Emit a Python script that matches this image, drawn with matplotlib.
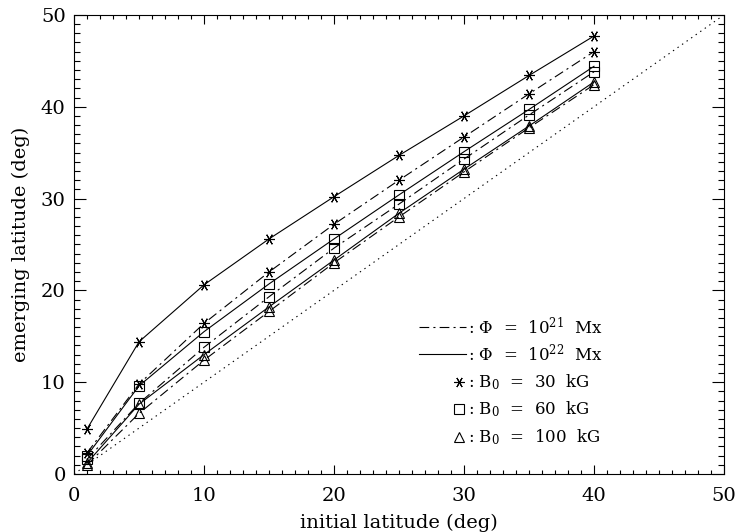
import matplotlib
matplotlib.use("Agg")
import matplotlib.pyplot as plt
from matplotlib.lines import Line2D
from matplotlib.ticker import MultipleLocator

plt.rcParams["font.family"] = ["DejaVu Serif"]
plt.rcParams["mathtext.fontset"] = "dejavuserif"
plt.rcParams["lines.scale_dashes"] = False

# initial latitude (deg)
lat0 = [1, 5, 10, 15, 20, 25, 30, 35, 40]

# emerging latitude (deg); key = (B0 in kG, flux)
b30_1e22 = [4.9, 14.4, 20.6, 25.6, 30.2, 34.7, 39.0, 43.4, 47.7]
b30_1e21 = [2.3, 9.8, 16.4, 22.0, 27.2, 32.0, 36.7, 41.4, 46.0]
b60_1e22 = [2.0, 9.6, 15.5, 20.7, 25.6, 30.4, 35.1, 39.7, 44.4]
b60_1e21 = [1.6, 7.7, 13.8, 19.3, 24.6, 29.4, 34.3, 39.1, 43.8]
b100_1e22 = [1.2, 7.6, 13.0, 18.2, 23.3, 28.4, 33.2, 37.9, 42.7]
b100_1e21 = [1.0, 6.6, 12.4, 17.7, 23.0, 28.0, 32.9, 37.7, 42.4]

diag = [0, 50]

legend_flux = [r": $\Phi$  =  10$^{21}$  Mx", r": $\Phi$  =  10$^{22}$  Mx"]
legend_b0 = [r": B$_0$  =  30  kG", r": B$_0$  =  60  kG", r": B$_0$  =  100  kG"]

DASHDOT = (0, (7, 3, 1.5, 3))
ast = (6, 2, 90)

fig = plt.figure(figsize=(7.35, 5.32), dpi=100)
ax = fig.add_axes([0.1007, 0.109, 0.8843, 0.863])

series = [
    (b30_1e22, "-", ast, 11),
    (b30_1e21, DASHDOT, ast, 11),
    (b60_1e22, "-", "s", 10),
    (b60_1e21, DASHDOT, "s", 10),
    (b100_1e22, "-", "^", 10),
    (b100_1e21, DASHDOT, "^", 10),
]
for vals, ls, mk, ms in series:
    ax.plot(lat0, vals, color="black", lw=0.8, ls=ls, marker=mk,
            markersize=ms * 0.72, markerfacecolor="none",
            markeredgecolor="black", markeredgewidth=0.8)

ax.plot(diag, diag, color="black", lw=0.8, ls=(0, (1, 3)))

ax.set_xlim(0, 50)
ax.set_ylim(0, 50)
ax.xaxis.set_major_locator(MultipleLocator(10))
ax.xaxis.set_minor_locator(MultipleLocator(1))
ax.yaxis.set_major_locator(MultipleLocator(10))
ax.yaxis.set_minor_locator(MultipleLocator(1))
ax.tick_params(axis="x", which="major", direction="in", top=True,
               length=6.5, width=0.8, labelsize=14, pad=9)
ax.tick_params(axis="x", which="minor", direction="in", top=True,
               length=3.2, width=0.8)
ax.tick_params(axis="y", which="major", direction="in", right=True,
               length=8.6, width=0.8, labelsize=14, pad=6)
ax.tick_params(axis="y", which="minor", direction="in", right=True,
               length=4.3, width=0.8)
for sp in ax.spines.values():
    sp.set_linewidth(0.8)

ax.set_xlabel("initial latitude (deg)", fontsize=14, labelpad=7)
ax.set_ylabel("emerging latitude (deg)", fontsize=14, labelpad=8)

# legend drawn by hand, IDL style
tr = ax.transAxes
x0, x1, xt = 0.531, 0.603, 0.606
ys_flux = [0.320, 0.262]
for y, ls, lab in zip(ys_flux, [DASHDOT, "-"], legend_flux):
    ax.add_line(Line2D([x0, x1], [y, y], transform=tr, color="black",
                       lw=0.8, ls=ls))
    ax.text(xt, y, lab, transform=tr, fontsize=12, va="center")
ys_b = [0.201, 0.142, 0.081]
xm = 0.593
for y, mk, lab in zip(ys_b, [ast, "s", "^"], legend_b0):
    ax.plot([xm], [y], transform=tr, marker=mk, markersize=7.5,
            markerfacecolor="none", markeredgecolor="black",
            markeredgewidth=0.8, color="black")
    ax.text(xt, y, lab, transform=tr, fontsize=12, va="center")

fig.savefig("out.png", dpi=100)
